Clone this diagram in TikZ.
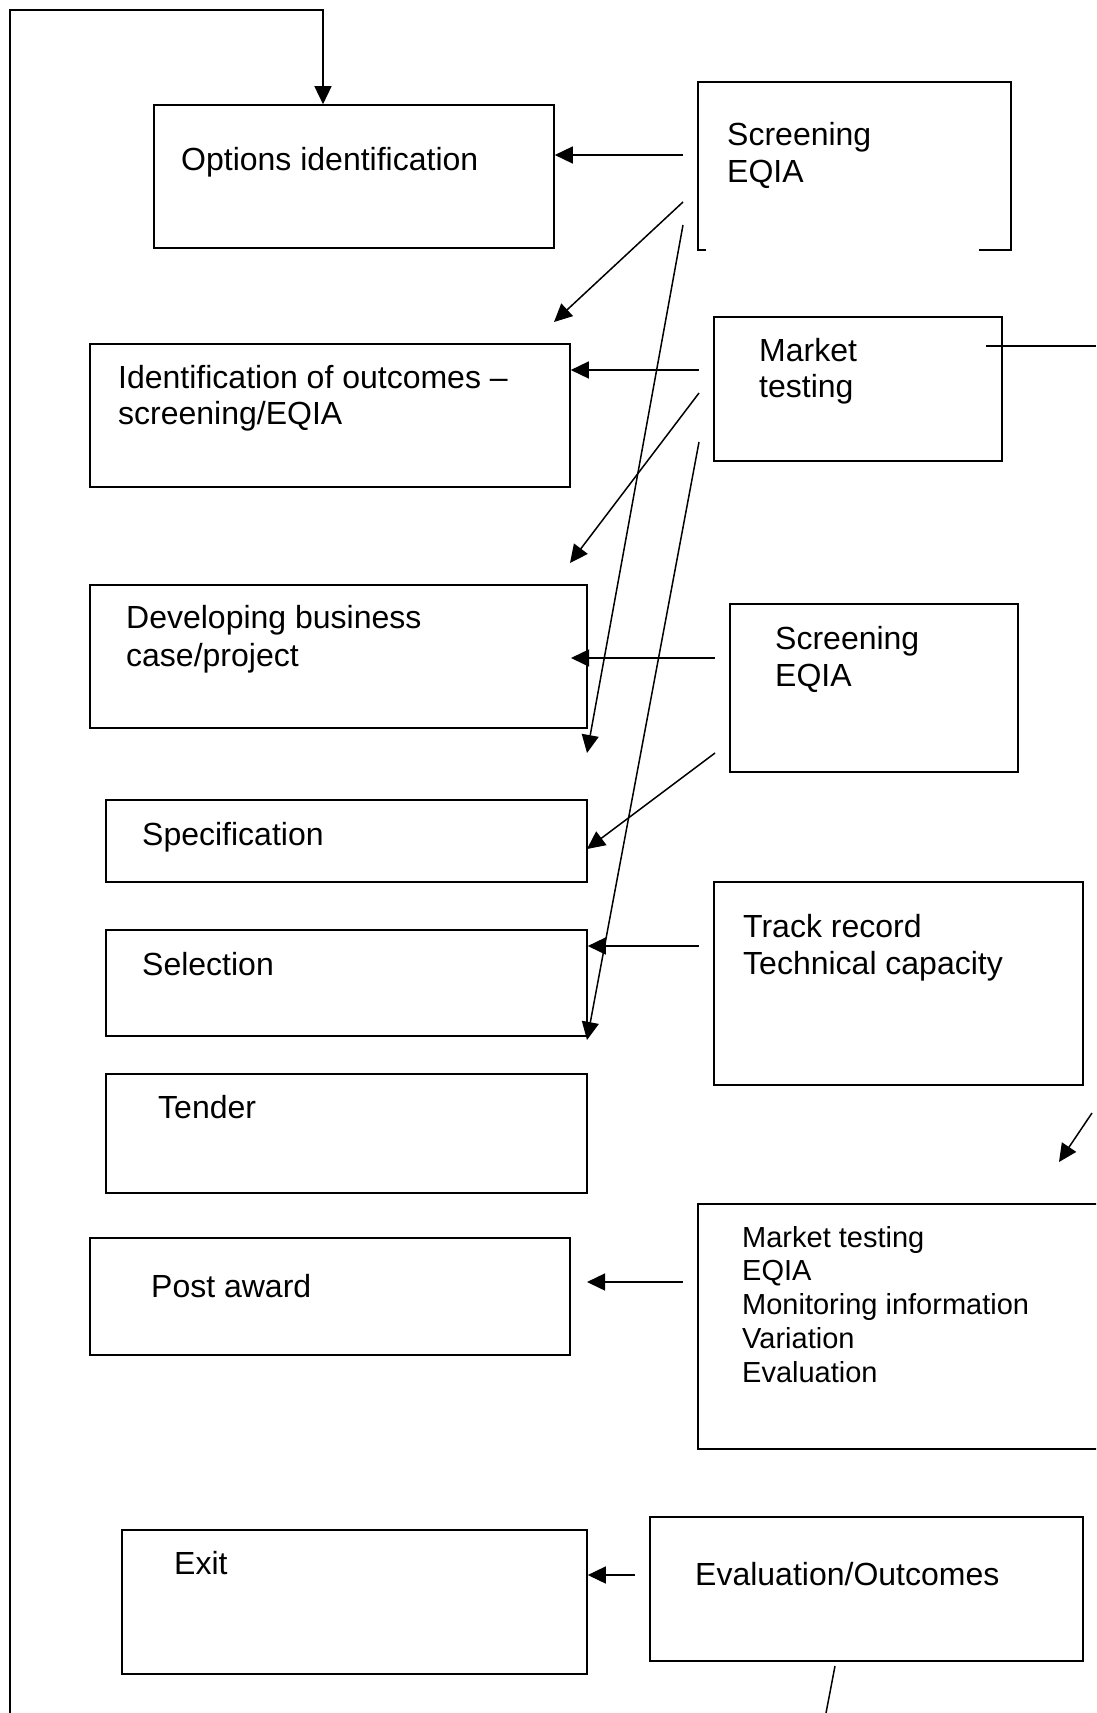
\documentclass[tikz,border=0pt]{standalone}
\usepackage{fontspec}
\setmainfont{Liberation Sans}
\usetikzlibrary{arrows.meta,fit}
\begin{document}
\begin{tikzpicture}[x=1pt,y=-1pt,
  box/.style={draw,line width=1.6pt,rectangle,inner sep=0pt},
  ln/.style={line width=1.5pt},
  arr/.style={line width=1.5pt,-{Triangle[length=18pt,width=17pt]}},
  big/.style={anchor=base west,inner sep=0pt,font=\fontsize{32}{37}\selectfont},
  small/.style={anchor=base west,inner sep=0pt,font=\fontsize{29}{34}\selectfont}]
\useasboundingbox (0,0) rectangle (1096,1713);
\clip (0,0) rectangle (1096,1713);
\fill[white] (0,0) rectangle (1096,1713);
% boxes
\node[box, fit={(154,105) (554,248)}] (opt) {};
\node[inner sep=0pt, fit={(698,82) (1011,250)}] (scr1) {};
\draw[line width=1.6pt] ([xshift=8pt]scr1.south west) -- (scr1.south west) -- (scr1.north west)
  -- (scr1.north east) -- (scr1.south east) -- ([xshift=-32pt]scr1.south east);
\node[box, fit={(714,317) (1002,461)}] (mkt) {};
\node[box, fit={(90,344) (570,487)}] (idn) {};
\node[box, fit={(90,585) (587,728)}] (dev) {};
\node[box, fit={(730,604) (1018,772)}] (scr2) {};
\node[box, fit={(106,800) (587,882)}] (spec) {};
\node[box, fit={(106,930) (587,1036)}] (sel) {};
\node[box, fit={(714,882) (1083,1085)}] (track) {};
\node[box, fit={(106,1074) (587,1193)}] (tender) {};
\node[box, fit={(90,1238) (570,1355)}] (post) {};
\node[box, fit={(698,1204) (1120,1449)}] (mon) {};
\node[box, fit={(122,1530) (587,1674)}] (exit) {};
\node[box, fit={(650,1517) (1083,1661)}] (eval) {};
% texts
\node[big] (t1) at (181,170) {Options identification};
\node[big] (t2a) at (727,145) {Screening};
\node[big] (t2b) at (727,182) {EQIA};
\node[big] (t3a) at (759,361) {Market};
\node[big] (t3b) at (759,397) {testing};
\node[big] (t4a) at (118,388) {Identification of outcomes –};
\node[big] (t4b) at (118,424) {screening/EQIA};
\node[big] (t5a) at (126,628) {Developing business};
\node[big] (t5b) at (126,666) {case/project};
\node[big] (t6a) at (775,649) {Screening};
\node[big] (t6b) at (775,686) {EQIA};
\node[big] (t7) at (142,845) {Specification};
\node[big] (t8) at (142,975) {Selection};
\node[big] (t9a) at (743,937) {Track record};
\node[big] (t9b) at (743,974) {Technical capacity};
\node[big] (t10) at (158,1118) {Tender};
\node[big] (t11) at (151,1297) {Post award};
\node[small] (t12a) at (742,1247) {Market testing};
\node[small] (t12b) at (742,1280) {EQIA};
\node[small] (t12c) at (742,1314) {Monitoring information};
\node[small] (t12d) at (742,1348) {Variation};
\node[small] (t12e) at (742,1382) {Evaluation};
\node[big] (t13) at (174,1574) {Exit};
\node[big] (t14) at (695,1585) {Evaluation/Outcomes};
% connector coordinates
\coordinate (L0) at (10,1713);
\coordinate (L1) at (10,10);
\coordinate (L2) at (323,10);
\coordinate (s1a) at (683,155);
\coordinate (s1b) at (683,202);
\coordinate (s1bE) at (554,322);
\coordinate (s1c) at (683,225);
\coordinate (s1cE) at (587,753);
\coordinate (m1a) at (699,370);
\coordinate (m1b) at (699,393);
\coordinate (m1bE) at (570,563);
\coordinate (m1c) at (699,442);
\coordinate (m1cE) at (587,1040);
\coordinate (m1d) at (986,346);
\coordinate (m1dE) at (1096,346);
\coordinate (s2a) at (715,658);
\coordinate (s2aE) at (571,658);
\coordinate (s2b) at (715,753);
\coordinate (s2bE) at (587,849);
\coordinate (tra) at (699,946);
\coordinate (trb) at (1092,1113);
\coordinate (trbE) at (1059,1162);
\coordinate (moa) at (683,1282);
\coordinate (moaE) at (587,1282);
\coordinate (eva) at (635,1575);
\coordinate (evb) at (835,1666);
\coordinate (evbE) at (826,1713);
% connectors
\draw[arr] (L0) -- (L1) -- (L2) -- (L2 |- opt.north);
\draw[arr] (s1a) -- (s1a -| opt.east);
\draw[arr] (s1b) -- (s1bE);
\draw[arr] (s1c) -- (s1cE);
\draw[arr] (m1a) -- (m1a -| idn.east);
\draw[arr] (m1b) -- (m1bE);
\draw[arr] (m1c) -- (m1cE);
\draw[ln] (m1d) -- (m1dE);
\draw[arr] (s2a) -- (s2aE);
\draw[arr] (s2b) -- (s2bE);
\draw[arr] (tra) -- (tra -| sel.east);
\draw[arr] (trb) -- (trbE);
\draw[arr] (moa) -- (moaE);
\draw[arr] (eva) -- (eva -| exit.east);
\draw[ln] (evb) -- (evbE);
\end{tikzpicture}
\end{document}
